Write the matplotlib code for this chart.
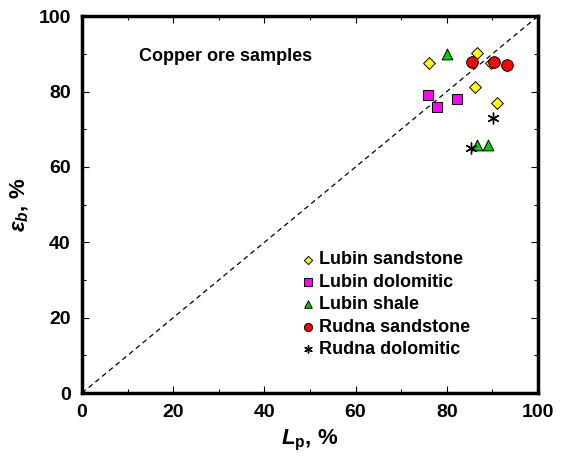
import matplotlib
matplotlib.use("Agg")
import matplotlib.pyplot as plt
from matplotlib.ticker import MultipleLocator

plt.rcParams['font.family'] = ['Liberation Sans', 'DejaVu Sans']
plt.rcParams['mathtext.fontset'] = 'custom'
plt.rcParams['mathtext.it'] = 'Liberation Sans:italic:bold'
plt.rcParams['mathtext.rm'] = 'Liberation Sans:bold'
plt.rcParams['mathtext.bf'] = 'Liberation Sans:bold'

# data (Lp %, eps_b %)
lubin_sand_x = [76.1, 86.6, 89.7, 86.2, 91.0]
lubin_sand_y = [87.5, 90.2, 87.5, 81.2, 76.9]
lubin_dolo_x = [75.8, 77.8, 82.2]
lubin_dolo_y = [79.0, 76.0, 78.0]
lubin_shale_x = [80.1, 86.7, 89.1]
lubin_shale_y = [89.9, 65.8, 65.8]
rudna_sand_x = [85.5, 90.4, 93.3]
rudna_sand_y = [87.9, 87.9, 87.1]
rudna_dolo_x = [90.2, 85.3]
rudna_dolo_y = [73.0, 64.9]

fig = plt.figure(figsize=(5.61, 4.62), dpi=100)
ax = fig.add_axes([0.146, 0.149, 0.813, 0.816])

ax.plot([0, 100], [0, 100], ls=(0, (4, 3)), color='black', lw=0.9, zorder=1)

ax.scatter(lubin_sand_x, lubin_sand_y, marker='D', s=36, facecolor='#ffff00', edgecolor='black', lw=0.7, label='Lubin sandstone', zorder=3)
ax.scatter(lubin_dolo_x, lubin_dolo_y, marker='s', s=60, facecolor='#ff00ff', edgecolor='black', lw=0.7, label='Lubin dolomitic', zorder=3)
ax.scatter(lubin_shale_x, lubin_shale_y, marker='^', s=60, facecolor='#00cc00', edgecolor='black', lw=0.7, label='Lubin shale', zorder=3)
ax.scatter(rudna_sand_x, rudna_sand_y, marker='o', s=70, facecolor='#ff0000', edgecolor='black', lw=0.7, label='Rudna sandstone', zorder=4)
ax.scatter(rudna_dolo_x, rudna_dolo_y, marker=(6, 2, 0), s=60, color='black', lw=1.0, label='Rudna dolomitic', zorder=3)

ax.set_xlim(0, 100)
ax.set_ylim(0, 100)
ax.xaxis.set_major_locator(MultipleLocator(20))
ax.xaxis.set_minor_locator(MultipleLocator(10))
ax.yaxis.set_major_locator(MultipleLocator(20))
ax.yaxis.set_minor_locator(MultipleLocator(10))
ax.tick_params(which='both', direction='in', top=True, right=True, width=0.8)
ax.tick_params(which='major', length=5, labelsize=14, pad=8)
ax.tick_params(which='minor', length=3)
for lab in ax.get_xticklabels() + ax.get_yticklabels():
    lab.set_fontweight('bold')
for sp in ax.spines.values():
    sp.set_linewidth(2.5)

ax.set_xlabel(r'$\mathit{L}_{\mathrm{p}}$, %', fontsize=16, fontweight='bold', labelpad=5)
ax.set_ylabel(r'$\mathit{\varepsilon_b}$, %', fontsize=16, fontweight='bold', labelpad=5)

ax.text(12.5, 88, 'Copper ore samples', fontsize=13, fontweight='bold')

leg = ax.legend(loc='lower left', bbox_to_anchor=(0.44, 0.05), frameon=False,
                prop={'weight': 'bold', 'size': 13}, handletextpad=0.1,
                labelspacing=0.3, handlelength=1.0, markerscale=0.7)

fig.savefig('out.png', dpi=100)
